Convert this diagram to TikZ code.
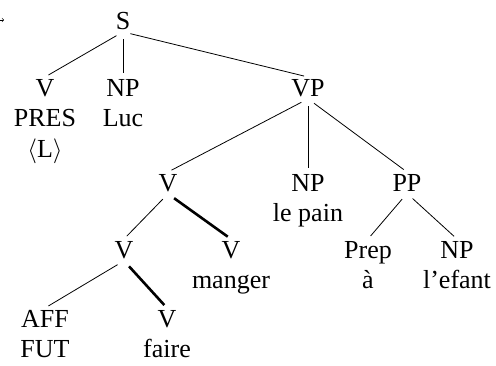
\documentclass[tikz,border=0pt]{standalone}
\usepackage{fontspec}
\setmainfont{Liberation Serif}
\usepackage{tikz}
\usetikzlibrary{arrows}

\begin{document}
\begin{tikzpicture}[x=1pt,y=1pt,
    cat/.style={anchor=north,align=center,inner sep=2pt,font=\fontsize{26}{30.5}\selectfont},
    branch/.style={line width=0.8pt,shorten <=7.5pt,shorten >=4pt},
    headbranch/.style={branch,line width=2.6pt}]
    \useasboundingbox (0,0) rectangle (496,-365);

    % arrow cut off at the left edge
    \coordinate (arrtail) at (-20,-20);
    \coordinate (arrtip) at (4,-20);
    \draw[->,line width=0.6pt] (arrtail) -- (arrtip);

    % S and its daughters
    \node[cat] (s) at (123,-10) {S};
    \node[cat] (vpres) at (45,-77) {V\\PRES\\$\langle$L$\rangle$};
    \node[cat] (npluc) at (123,-77) {NP\\Luc};
    \node[cat] (vp) at (308,-77) {VP};

    \draw[branch] (s.south) -- (vpres.north);
    \draw[branch] (s.south) -- (npluc.north);
    \draw[branch] (s.south) -- (vp.north);

    % VP
    \node[cat] (vcomp) at (168,-172) {V};
    \node[cat] (nppain) at (308,-172) {NP\\le pain};
    \node[cat] (pp) at (407,-172) {PP};

    \draw[branch] (vp.south) -- (vcomp.north);
    \draw[branch] (vp.south) -- (nppain.north);
    \draw[branch] (vp.south) -- (pp.north);

    % complex verb
    \node[cat] (vfut) at (124,-239) {V};
    \node[cat] (vmanger) at (231,-239) {V\\manger};

    \draw[branch] (vcomp.south) -- (vfut.north);
    \draw[headbranch] (vcomp.south) -- (vmanger.north);

    \node[cat] (aff) at (45,-308) {AFF\\FUT};
    \node[cat] (vfaire) at (167,-308) {V\\faire};

    \draw[branch] (vfut.south) -- (aff.north);
    \draw[headbranch] (vfut.south) -- (vfaire.north);

    % PP
    \node[cat] (prep) at (368,-239) {Prep\\à};
    \node[cat] (npenf) at (457,-239) {NP\\l’efant};

    \draw[branch] (pp.south) -- (prep.north);
    \draw[branch] (pp.south) -- (npenf.north);
\end{tikzpicture}
\end{document}
